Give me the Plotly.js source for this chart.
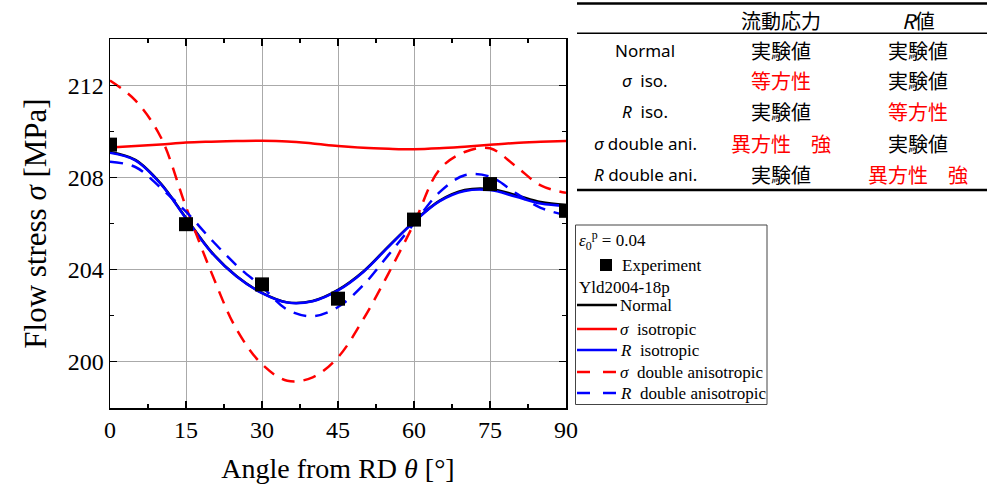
<!DOCTYPE html>
<html>
<head>
<meta charset="utf-8">
<script src="https://cdn.plot.ly/plotly-3.0.1.min.js"></script>
<style>body{margin:0;background:#fff}#chart{width:997px;height:493px}</style>
</head>
<body>
<div id="chart"></div>
<script>
// ---- data ----
const angles = [0,5,10,15,20,25,30,35,40,45,50,55,60,65,70,75,80,85,90];
const expAngles = [0,15,30,45,60,75,90];
const expStress = [209.42,205.97,203.36,202.74,206.17,207.71,206.55];
const normal = [209.10,208.76,207.74,206.24,204.77,203.71,202.99,202.58,202.64,203.12,203.92,205.02,206.08,206.98,207.45,207.50,207.24,206.93,206.80];
const sigmaIso = [209.29,209.36,209.43,209.51,209.55,209.58,209.59,209.56,209.47,209.36,209.28,209.24,209.22,209.26,209.33,209.41,209.49,209.54,209.58];
const rIso = [209.07,208.74,207.72,206.22,204.75,203.70,202.98,202.57,202.63,203.10,203.90,205.00,206.07,206.96,207.41,207.45,207.17,206.87,206.77];
const sigmaDouble = [212.20,211.34,209.75,206.72,203.88,201.40,199.90,199.18,199.33,200.20,201.85,203.85,206.00,208.33,209.10,209.26,208.50,207.65,207.33];
const rDouble = [208.68,208.45,207.55,206.51,205.30,204.18,203.25,202.26,201.98,202.38,203.33,204.65,206.00,207.35,208.09,208.03,207.33,206.68,206.36];
const xTicks = [0,15,30,45,60,75,90];
const yTicks = [200,204,208,212];
const legendNames = ["Experiment", "Normal", "<i>σ</i>  isotropic", "<i>R</i>  isotropic", "<i>σ</i>  double anisotropic", "<i>R</i>  double anisotropic"];
const legendHeaders = ["<i>ε</i><sub>0</sub><sup>p</sup> = 0.04", "Yld2004-18p"];
const tableHeader = ["", "流動応力", "<i>R</i>値"];
const tableRows = [
  ["Normal", "実験値", "実験値"],
  ["<i>σ</i>  iso.", "等方性", "実験値"],
  ["<i>R</i>  iso.", "実験値", "等方性"],
  ["<i>σ</i> double ani.", "異方性　強", "実験値"],
  ["<i>R</i> double ani.", "実験値", "異方性　強"]
];

// ---- layout helpers (pixel -> paper) ----
const L = 110, R = 566, T = 39, B = 408;
const px = x => (x - L) / (R - L);
const py = y => (B - y) / (B - T);
const serif = "Liberation Serif, Times New Roman, serif";
const sans = "Noto Sans CJK JP, Noto Sans, sans-serif";
const RED = "#ff0000", BLUE = "#0000ff", BLACK = "#000000";
const DASH = "13px,9px";

const line = (y, name, color, dash) => ({
  x: angles, y: y, type: "scatter", mode: "lines", name: name,
  line: {color: color, width: 2.5, dash: dash, shape: "spline", smoothing: 1}
});

const traces = [
  line(normal, legendNames[1], BLACK, "solid"),
  line(sigmaIso, legendNames[2], RED, "solid"),
  line(rIso, legendNames[3], BLUE, "solid"),
  line(sigmaDouble, legendNames[4], RED, DASH),
  line(rDouble, legendNames[5], BLUE, DASH),
  {x: expAngles, y: expStress, type: "scatter", mode: "markers", name: legendNames[0],
   marker: {symbol: "square", size: 14, color: BLACK}}
];

const shapes = [
  // table rules
  {type: "line", xref: "paper", yref: "paper", x0: px(577), x1: px(987), y0: py(3.5), y1: py(3.5), line: {color: BLACK, width: 2.5}},
  {type: "line", xref: "paper", yref: "paper", x0: px(577), x1: px(987), y0: py(33.3), y1: py(33.3), line: {color: BLACK, width: 1.5}},
  {type: "line", xref: "paper", yref: "paper", x0: px(577), x1: px(987), y0: py(190), y1: py(190), line: {color: BLACK, width: 2.5}},
  // legend box
  {type: "rect", xref: "paper", yref: "paper", x0: px(575.5), x1: px(767), y0: py(225), y1: py(404.5), line: {color: "#444", width: 1}, fillcolor: "rgba(0,0,0,0)"},
  // legend marker
  {type: "rect", xref: "paper", yref: "paper", x0: px(600), x1: px(612), y0: py(259), y1: py(271), line: {width: 0}, fillcolor: BLACK}
];
const annotations = [];
// legend samples and texts
const legRowY = [265, 305, 329, 350, 372, 393];
const legStyle = [null, [BLACK, "solid"], [RED, "solid"], [BLUE, "solid"], [RED, "dash"], [BLUE, "dash"]];
legStyle.forEach((s, i) => {
  if (!s) return;
  const y = py(legRowY[i]);
  if (s[1] === "solid") {
    shapes.push({type: "line", xref: "paper", yref: "paper", x0: px(577), x1: px(617), y0: y, y1: y, line: {color: s[0], width: 2.5}});
  } else {
    shapes.push({type: "line", xref: "paper", yref: "paper", x0: px(577), x1: px(590), y0: y, y1: y, line: {color: s[0], width: 2.5}});
    shapes.push({type: "line", xref: "paper", yref: "paper", x0: px(603), x1: px(616), y0: y, y1: y, line: {color: s[0], width: 2.5}});
  }
});
legendNames.forEach((t, i) => {
  annotations.push({text: t, xref: "paper", yref: "paper", x: px(i === 0 ? 620 : 618), y: py(legRowY[i]), xanchor: "left", yanchor: "middle", showarrow: false,
    font: {family: serif, size: 17, color: BLACK}});
});
[[legendHeaders[0], 240], [legendHeaders[1], 287]].forEach(h => {
  annotations.push({text: h[0], xref: "paper", yref: "paper", x: px(577), y: py(h[1]), xanchor: "left", yanchor: "middle", showarrow: false,
    font: {family: serif, size: 17, color: BLACK}});
});
// table texts
const colX = [645, 781, 918];
const rowY = [51, 81, 112, 143, 174];
tableHeader.forEach((t, i) => {
  if (t) annotations.push({text: t, xref: "paper", yref: "paper", x: px(colX[i]), y: py(20.5), xanchor: "center", yanchor: "middle", showarrow: false, font: {family: sans, size: 20, color: BLACK}});
});
tableRows.forEach((row, r) => {
  row.forEach((t, c) => {
    const red = (t === "等方性" || t === "異方性　強");
    annotations.push({text: t, xref: "paper", yref: "paper", x: px(colX[c]), y: py(rowY[r]), xanchor: "center", yanchor: "middle", showarrow: false,
      font: {family: c === 0 ? "Noto Sans, sans-serif" : sans, size: c === 0 ? 17 : 20, color: red ? RED : BLACK}});
  });
});

const axisCommon = {
  showline: true, linecolor: BLACK, linewidth: 1.5, mirror: "allticks",
  ticks: "inside", ticklen: 7, tickwidth: 1.2, tickcolor: BLACK,
  showgrid: true, gridcolor: "#aaaaaa", gridwidth: 1, zeroline: false,
  tickfont: {family: serif, size: 24, color: BLACK},
  minor: {ticks: "inside", ticklen: 4, tickcolor: BLACK, showgrid: false}
};

const layout = {
  width: 997, height: 493,
  margin: {l: L, r: 997 - R, t: T, b: 493 - B},
  paper_bgcolor: "#fff", plot_bgcolor: "#fff",
  showlegend: false,
  xaxis: Object.assign({}, axisCommon, {range: [0, 90], tickvals: xTicks, ticktext: xTicks.map(String),
    minor: Object.assign({}, axisCommon.minor, {dtick: 7.5, tick0: 0}),
    title: {text: "Angle from RD <i>θ</i> [°]", font: {family: serif, size: 28, color: BLACK}, standoff: 16}}),
  yaxis: Object.assign({}, axisCommon, {range: [198, 214], tickvals: yTicks, ticktext: yTicks.map(String),
    minor: Object.assign({}, axisCommon.minor, {dtick: 2, tick0: 198}),
    title: {text: "Flow stress <i>σ</i> [MPa]", font: {family: serif, size: 31, color: BLACK}, standoff: 12}}),
  shapes: shapes,
  annotations: annotations
};

Plotly.newPlot("chart", traces, layout, {displayModeBar: false, staticPlot: true});
</script>
</body>
</html>
